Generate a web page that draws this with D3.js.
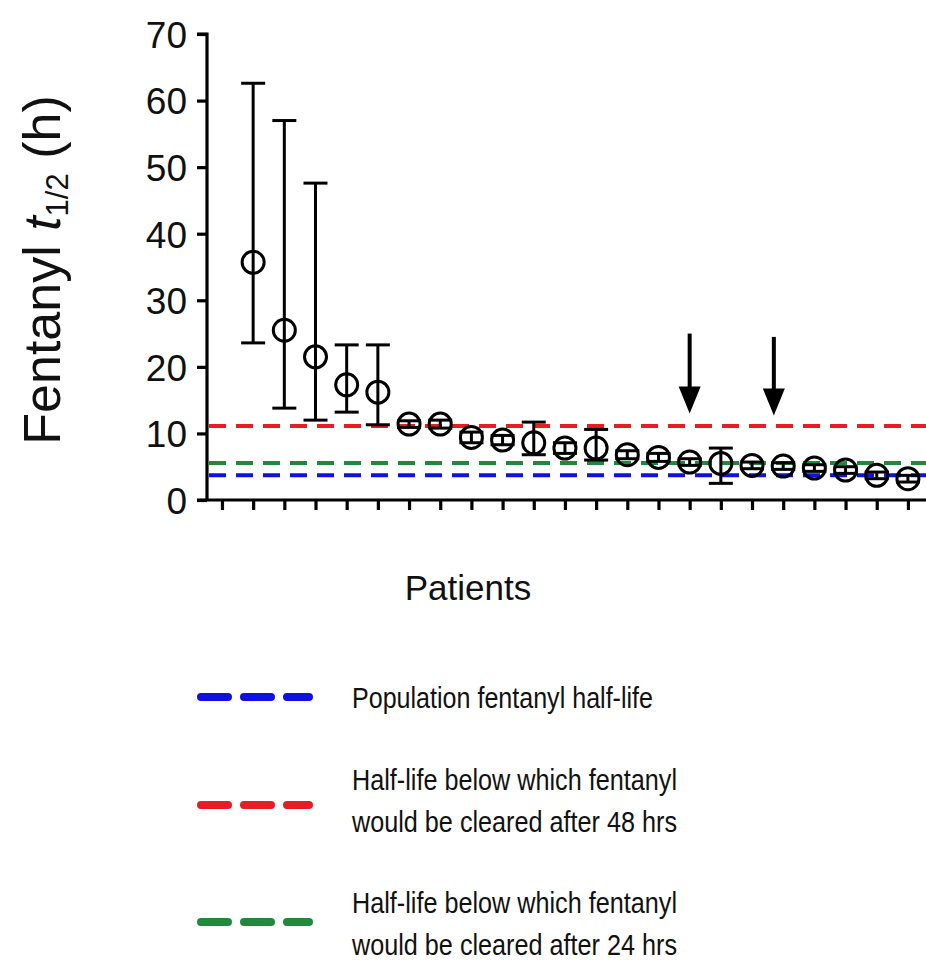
<!doctype html>
<html>
<head>
<meta charset="utf-8">
<style>
  body { margin: 0; background: #fff; }
  svg { display: block; font-family: "Liberation Sans", Arial, sans-serif; }
</style>
<script src="https://d3js.org/d3.v7.min.js"></script>
</head>
<body>
<svg width="926" height="961"></svg>
<script>
// patient index along x (0 is an empty slot)
var patients  = [1, 2, 3, 4, 5, 6, 7, 8, 9, 10, 11, 12, 13, 14, 15, 16, 17, 18, 19, 20, 21, 22];
var halfLife  = [35.7, 25.5, 21.5, 17.3, 16.2, 11.4, 11.4, 9.4, 9.0, 8.6, 7.8, 7.8, 6.8, 6.4, 5.7, 5.5, 5.2, 5.1, 4.8, 4.5, 3.7, 3.2];
var errLow    = [23.6, 13.8, 12.0, 13.2, 11.3, 10.9, 10.8, 8.6, 8.3, 6.8, 7.0, 6.0, 6.2, 5.8, 5.2, 2.5, 4.7, 4.6, 4.3, 4.0, 3.2, 2.7];
var errHigh   = [62.6, 57.0, 47.6, 23.3, 23.3, 11.9, 12.0, 10.2, 9.7, 11.7, 8.6, 10.6, 7.4, 7.0, 6.2, 7.8, 5.7, 5.6, 5.3, 5.0, 4.2, 3.7];
var yTicks    = [0, 10, 20, 30, 40, 50, 60, 70];
var xTicks    = d3.range(0, 23);

// reference half-lives (h)
var refNames  = ["population", "48h", "24h"];
var refValues = [3.7, 11.1, 5.55];
var refColors = ["#1010e0", "#e81c24", "#1f8a3c"];

// arrows over patients (x index, tip value, tail value)
var arrowX    = [15, 17.7];
var arrowTip  = [13.0, 12.7];
var arrowTail = [25.0, 24.5];

var legendLabels = [
  ["Population fentanyl half-life"],
  ["Half-life below which fentanyl", "would be cleared after 48 hrs"],
  ["Half-life below which fentanyl", "would be cleared after 24 hrs"]
];

var svg = d3.select("svg");

var x = d3.scaleLinear().domain([-0.48, 22.58]).range([207, 926]);
var y = d3.scaleLinear().domain([0, 70]).range([500, 34]);

// axes
var yAxis = svg.append("g")
  .attr("transform", "translate(207,0)")
  .call(d3.axisLeft(y).tickValues(yTicks).tickSize(10).tickPadding(10));
yAxis.select(".domain").attr("stroke", "#000").attr("stroke-width", 3.2).attr("d", "M-10," + y(70) + "H0V" + y(0));
yAxis.selectAll(".tick line").attr("stroke-width", 3.2);
yAxis.selectAll(".tick text")
  .style("font-size", "37px")
  .attr("fill", "#111")
  .attr("dy", "0.36em");

var xAxis = svg.append("g")
  .attr("transform", "translate(0,500)")
  .call(d3.axisBottom(x).tickValues(xTicks).tickSize(10).tickFormat(""));
xAxis.select(".domain").attr("stroke", "#000").attr("stroke-width", 3.2).attr("d", "M" + (x.range()[0] - 10) + ",0H" + x.range()[1]);
xAxis.selectAll(".tick line").attr("stroke-width", 3.2);

// reference lines
svg.append("g").selectAll("line")
  .data(refValues).enter()
  .append("line")
    .attr("x1", 209)
    .attr("x2", 926)
    .attr("y1", function(d) { return y(d); })
    .attr("y2", function(d) { return y(d); })
    .attr("stroke", function(d, i) { return refColors[i]; })
    .attr("stroke-width", 4)
    .attr("stroke-dasharray", "17,10");

// error bars + points
var pts = svg.append("g").selectAll("g")
  .data(patients).enter()
  .append("g");

pts.append("line")
  .attr("x1", function(d) { return x(d); })
  .attr("x2", function(d) { return x(d); })
  .attr("y1", function(d, i) { return y(errLow[i]); })
  .attr("y2", function(d, i) { return y(errHigh[i]); })
  .attr("stroke", "#000").attr("stroke-width", 3);

[errLow, errHigh].forEach(function(arr) {
  pts.append("line")
    .attr("x1", function(d) { return x(d) - 12; })
    .attr("x2", function(d) { return x(d) + 12; })
    .attr("y1", function(d, i) { return y(arr[i]); })
    .attr("y2", function(d, i) { return y(arr[i]); })
    .attr("stroke", "#000").attr("stroke-width", 3);
});

pts.append("circle")
  .attr("cx", function(d) { return x(d); })
  .attr("cy", function(d, i) { return y(halfLife[i]); })
  .attr("r", 11)
  .attr("fill", "none")
  .attr("stroke", "#000")
  .attr("stroke-width", 3);

// arrows
var arrows = svg.append("g").selectAll("g")
  .data(arrowX).enter()
  .append("g");
arrows.append("line")
  .attr("x1", function(d) { return x(d); })
  .attr("x2", function(d) { return x(d); })
  .attr("y1", function(d, i) { return y(arrowTail[i]); })
  .attr("y2", function(d, i) { return y(arrowTip[i]) - 20; })
  .attr("stroke", "#000").attr("stroke-width", 4);
arrows.append("path")
  .attr("d", function(d, i) {
    var cx = x(d), ty = y(arrowTip[i]);
    return "M" + (cx - 11) + "," + (ty - 27) + "L" + (cx + 11) + "," + (ty - 27) + "L" + cx + "," + ty + "Z";
  })
  .attr("fill", "#000");

// axis titles
var yTitle = svg.append("text")
  .attr("transform", "translate(60,270) rotate(-90)")
  .attr("text-anchor", "middle")
  .style("font-size", "52px")
  .attr("fill", "#111");
yTitle.append("tspan").text("Fentanyl ");
yTitle.append("tspan").style("font-style", "italic").text("t");
yTitle.append("tspan").style("font-size", "31px").attr("dy", "8").text("1/2");
yTitle.append("tspan").attr("dy", "-8").text(" (h)");

svg.append("text")
  .attr("x", 468)
  .attr("y", 600)
  .attr("text-anchor", "middle")
  .style("font-size", "35px")
  .attr("fill", "#111")
  .text("Patients");

// legend
var legendLineY = [697, 805, 922];
var legendTextY = [708, 790, 913];
var legend = svg.append("g").selectAll("g")
  .data(legendLabels).enter()
  .append("g");

legend.append("line")
  .attr("x1", 201).attr("x2", 309)
  .attr("y1", function(d, i) { return legendLineY[i]; })
  .attr("y2", function(d, i) { return legendLineY[i]; })
  .attr("stroke", function(d, i) { return refColors[i]; })
  .attr("stroke-width", 8)
  .attr("stroke-linecap", "round")
  .attr("stroke-dasharray", "27,16");

legend.each(function(lines, i) {
  var g = d3.select(this);
  lines.forEach(function(t, j) {
    g.append("text")
      .attr("x", 352)
      .attr("y", legendTextY[i] + j * 42)
      .style("font-size", "29px")
      .attr("fill", "#111")
      .attr("textLength", lines.length === 1 ? 301 : 325)
      .attr("lengthAdjust", "spacingAndGlyphs")
      .text(t);
  });
});
</script>
</body>
</html>
